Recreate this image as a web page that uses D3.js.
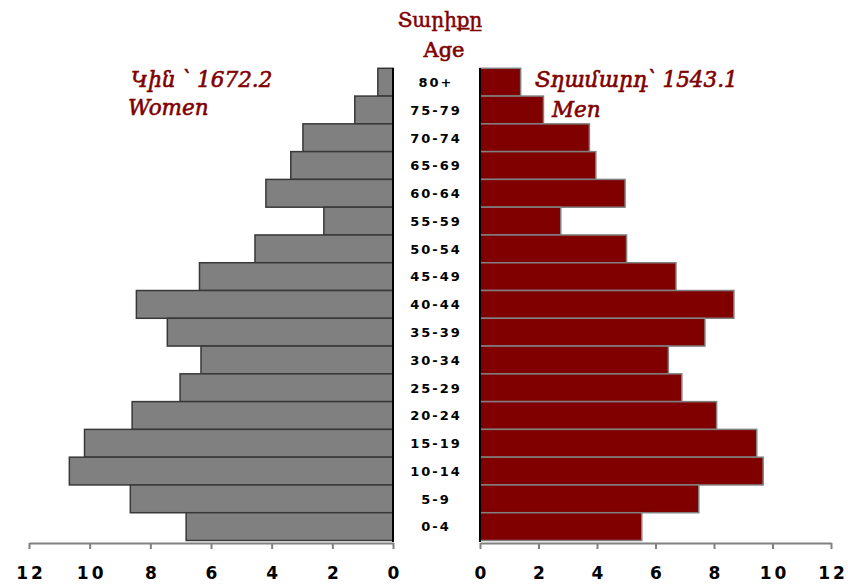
<!DOCTYPE html>
<html><head><meta charset="utf-8">
<script src="https://cdn.jsdelivr.net/npm/d3@7"></script>
<style>body{margin:0;background:#fff}svg{display:block}</style>
</head><body>
<svg id="c" width="848" height="584"></svg>
<script>
const ageGroups = ["80+","75-79","70-74","65-69","60-64","55-59","50-54","45-49","40-44","35-39","30-34","25-29","20-24","15-19","10-14","5-9","0-4"];
const women = [0.50,1.26,2.97,3.37,4.19,2.28,4.55,6.38,8.46,7.44,6.33,7.02,8.60,10.17,10.67,8.66,6.82];
const men   = [1.39,2.17,3.74,3.96,4.96,2.76,5.01,6.70,8.68,7.69,6.44,6.90,8.09,9.46,9.68,7.48,5.53];
const tickValues = [0,2,4,6,8,10,12];
const titleLines = ["Տարիքը","Age"];
const womenLabel = ["Կին ՝ 1672.2","Women"];
const menLabel = ["Տղամարդ՝ 1543.1","Men"];

const svg = d3.select("#c");
const y = d3.scaleBand().domain(ageGroups).range([68.3, 540.5]).padding(0);
const xL = d3.scaleLinear().domain([0,12]).range([393, 29]);
const xR = d3.scaleLinear().domain([0,12]).range([480, 831]);
const dark = "#800000";

// left bars
svg.append("g").selectAll("rect").data(ageGroups).join("rect")
  .attr("x", (d,i)=>xL(women[i]))
  .attr("y", d=>y(d))
  .attr("width", (d,i)=>xL(0)-xL(women[i]))
  .attr("height", y.bandwidth())
  .attr("fill", "#808080").attr("stroke", "#383838").attr("stroke-width", 1.5);

// right bars
svg.append("g").selectAll("rect").data(ageGroups).join("rect")
  .attr("x", xR(0))
  .attr("y", d=>y(d))
  .attr("width", (d,i)=>xR(men[i])-xR(0))
  .attr("height", y.bandwidth())
  .attr("fill", dark).attr("stroke", "#808080").attr("stroke-width", 1.5);

// baselines
svg.append("line").attr("x1", xL(0)).attr("x2", xL(0)).attr("y1", 68).attr("y2", 542).attr("stroke","#000").attr("stroke-width",2);
svg.append("line").attr("x1", xR(0)).attr("x2", xR(0)).attr("y1", 68).attr("y2", 542).attr("stroke","#000").attr("stroke-width",2);

// axes
function styleAxis(g){
  g.select(".domain").attr("stroke","#808080").attr("stroke-width",2);
  g.selectAll(".tick line").attr("stroke","#808080").attr("stroke-width",2);
  g.selectAll(".tick text").attr("y",36).attr("dy",0).attr("dx","1.5px")
    .attr("font-family","'DejaVu Sans', sans-serif").attr("font-weight","bold")
    .attr("font-size","17px").attr("letter-spacing","3px").attr("fill","#000");
}
svg.append("g").attr("transform","translate(0,543)")
  .call(d3.axisBottom(xL).tickValues(tickValues).tickSize(6).tickSizeOuter(0).tickFormat(d3.format("d")))
  .call(styleAxis);
svg.append("g").attr("transform","translate(0,543)")
  .call(d3.axisBottom(xR).tickValues(tickValues).tickSize(6).tickSizeOuter(0).tickFormat(d3.format("d")))
  .call(styleAxis);

// age labels
svg.append("g").selectAll("text").data(ageGroups).join("text")
  .attr("x", 436).attr("y", d=>y(d)+y.bandwidth()/2).attr("dy","0.37em")
  .attr("text-anchor","middle")
  .attr("font-family","'DejaVu Sans', sans-serif").attr("font-weight","bold")
  .attr("font-size","13px").attr("letter-spacing","2px").attr("fill","#000")
  .text(d=>d);

// title
const serif = "'DejaVu Serif',serif";
svg.append("text").attr("x",440).attr("y",27).attr("text-anchor","middle")
  .attr("font-family",serif).attr("font-size","20px").attr("fill",dark)
  .attr("stroke",dark).attr("stroke-width",0.5).text(titleLines[0]);
svg.append("text").attr("x",444).attr("y",57).attr("text-anchor","middle")
  .attr("font-family",serif).attr("font-size","21px").attr("fill",dark)
  .attr("stroke",dark).attr("stroke-width",0.6).text(titleLines[1]);

// side labels
function side(x, yy, t){
  svg.append("text").attr("x",x).attr("y",yy).attr("font-family",serif).attr("font-style","italic")
    .attr("font-size","21.5px").attr("fill",dark).attr("stroke",dark).attr("stroke-width",0.6).text(t);
}
side(131, 87, womenLabel[0]);
side(128, 115, womenLabel[1]);
side(535, 87, menLabel[0]);
side(552, 117, menLabel[1]);
</script>
</body></html>
